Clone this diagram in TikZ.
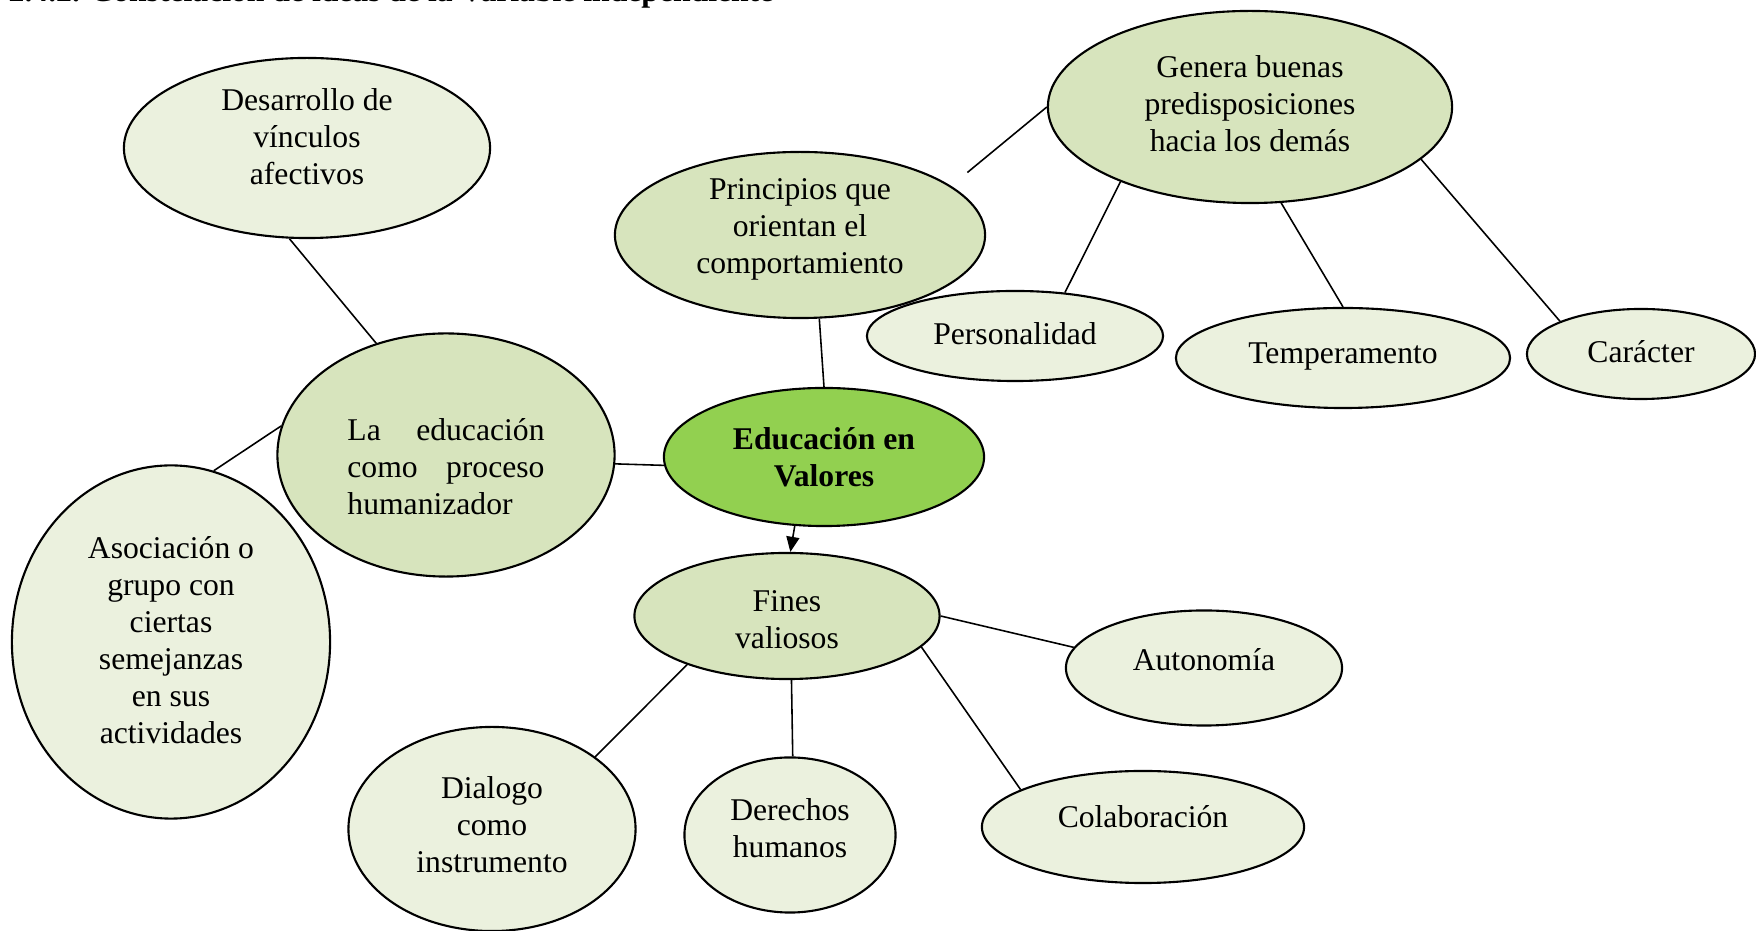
\documentclass[tikz,border=0pt]{standalone}
\usepackage{fontspec}
\setmainfont{Liberation Serif}
\usetikzlibrary{shapes.geometric,arrows.meta}
\definecolor{darkfill}{HTML}{D7E4BD}
\definecolor{lightfill}{HTML}{EBF1DE}
\definecolor{centerfill}{HTML}{92D050}
\tikzset{
  bub/.style={ellipse,draw=black,line width=0.6pt,inner sep=0pt},
  dk/.style={bub,fill=darkfill},
  lt/.style={bub,fill=lightfill},
  txt/.style={inner sep=0pt,align=center,font=\fontsize{9}{10.5}\selectfont},
  conn/.style={draw=black,line width=0.45pt},
}
\begin{document}
\begin{tikzpicture}[x=0.01cm,y=-0.01cm]
\useasboundingbox (0,0) rectangle (1756,931);
% clipped heading
\node[anchor=base west,inner sep=0pt,font=\fontsize{9}{10.5}\selectfont\bfseries] (head) at (8,2) {2.4.2. Constelación de ideas de la Variable independiente};
% ellipses
\node[lt,minimum width=3.66cm,minimum height=1.80cm] (des) at (307,148) {};
\node[dk,minimum width=3.70cm,minimum height=1.66cm] (pri) at (800,235) {};
\node[dk,minimum width=4.04cm,minimum height=1.92cm] (gen) at (1250,107) {};
\node[lt,minimum width=2.96cm,minimum height=0.90cm] (per) at (1015,336) {};
\node[lt,minimum width=3.34cm,minimum height=1.00cm] (tem) at (1343,358) {};
\node[lt,minimum width=2.28cm,minimum height=0.90cm] (car) at (1641,354) {};
\node[dk,minimum width=3.37cm,minimum height=2.43cm] (edu) at (446,455) {};
\node[bub,fill=centerfill,minimum width=3.20cm,minimum height=1.38cm] (val) at (824,457) {};
\node[lt,minimum width=3.18cm,minimum height=3.53cm] (aso) at (171,642) {};
\node[dk,minimum width=3.05cm,minimum height=1.26cm] (fin) at (787,616) {};
\node[lt,minimum width=2.76cm,minimum height=1.15cm] (aut) at (1204,668) {};
\node[lt,minimum width=2.87cm,minimum height=2.04cm] (dia) at (492,829) {};
\node[lt,minimum width=2.11cm,minimum height=1.55cm] (der) at (790,835) {};
\node[lt,minimum width=3.22cm,minimum height=1.12cm] (col) at (1143,827) {};
% texts
\node[txt] (desT) at (307,137) {Desarrollo de\\vínculos\\afectivos};
\node[txt] (priT) at (800,229) {Principios que\\orientan el\\comportamiento};
\node[txt] (genT) at (1250,104) {Genera buenas\\predisposiciones\\hacia los demás};
\node[txt] (perT) at (1015,334) {Personalidad};
\node[txt] (temT) at (1343,357) {Temperamento};
\node[txt] (carT) at (1641,352) {Carácter};
\node[txt,text width=1.97cm,align=justify] (eduT) at (446,467) {La educación como proceso humanizador};
\node[txt,font=\fontsize{9}{10.5}\selectfont\bfseries] (valT) at (824,457) {Educación en\\Valores};
\node[txt] (asoT) at (171,640) {Asociación o\\grupo con\\ciertas\\semejanzas\\en sus\\actividades};
\node[txt] (finT) at (787,620) {Fines\\valiosos};
\node[txt] (autT) at (1204,660) {Autonomía};
\node[txt] (diaT) at (492,825) {Dialogo\\como\\instrumento};
\node[txt] (derT) at (790,828) {Derechos\\humanos};
\node[txt] (colT) at (1143,817) {Colaboración};
% connectors
\draw[conn] (des.-101) -- (edu.122);
\draw[conn] (edu.170.5) -- (aso.76);
\draw[conn] (edu.-3.4) -- (val.183);
\draw[conn] (pri.-77) -- (val.90);
\draw[conn,shorten <=6pt] (pri.18.4) -- (gen.180);
\draw[conn] (gen.-150.6) -- (per.41.4);
\draw[conn] (gen.-72.5) -- (tem.90);
\draw[conn] (gen.-17.1) -- (car.158);
\draw[conn,-{Triangle[length=4.3pt,width=3.7pt]}] (val.-113) -- (fin.87);
\draw[conn] (fin.0.4) -- (aut.171.5);
\draw[conn] (fin.-13.6) -- (col.163.7);
\draw[conn] (fin.-86) -- (der.88.5);
\draw[conn] (fin.-154.8) -- (dia.35.6);
\end{tikzpicture}
\end{document}
